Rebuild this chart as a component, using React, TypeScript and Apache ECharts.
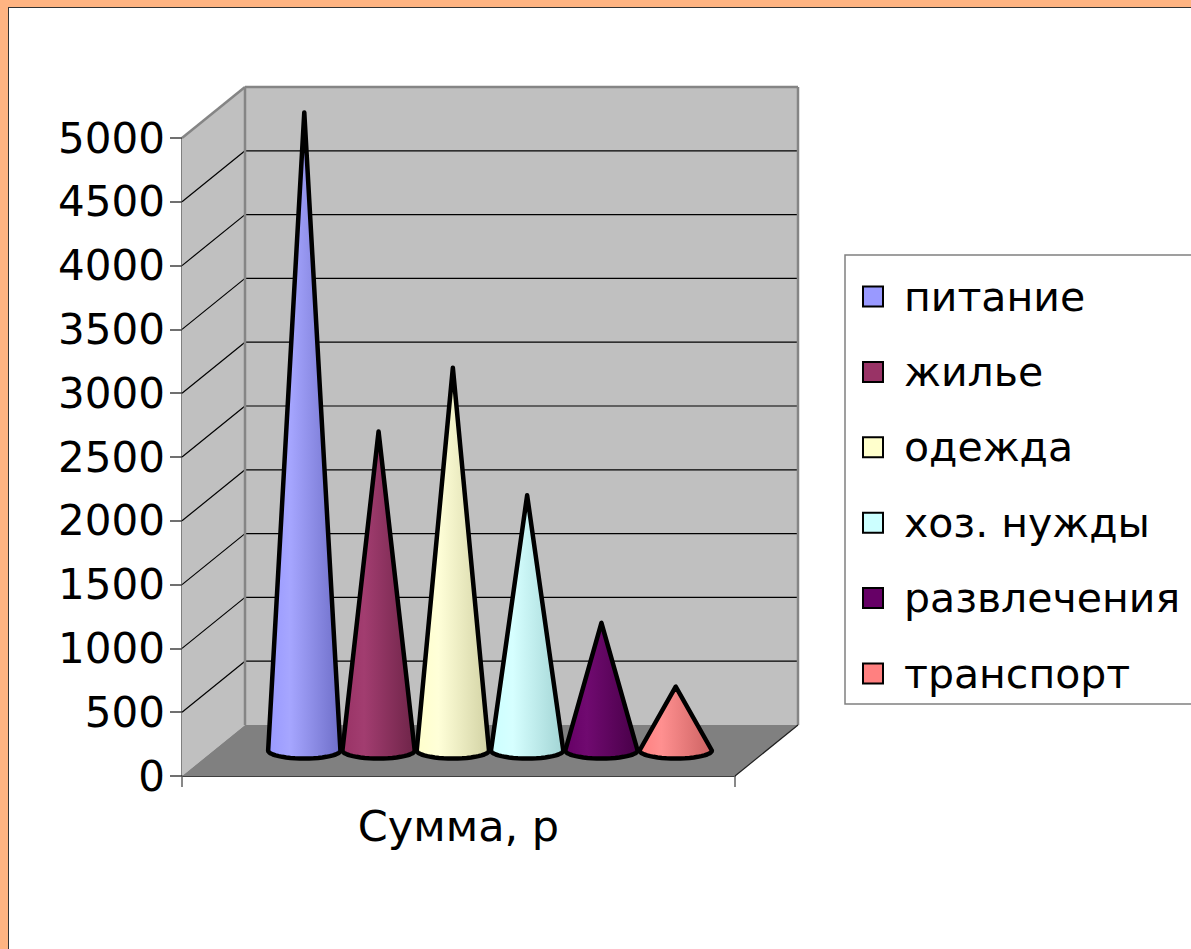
import React, { useEffect, useRef } from "react";
import * as echarts from "echarts";

const CATEGORY = ["Сумма, р"];
const SERIES_NAMES = ["питание", "жилье", "одежда", "хоз. нужды", "развлечения", "транспорт"];
const SERIES_VALUES = [5000, 2500, 3000, 2000, 1000, 500];
const SERIES_COLORS = ["#9999FF", "#993366", "#FFFFCC", "#CCFFFF", "#660066", "#FF8080"];
const SERIES_LIGHT = ["#A6A6FF", "#A23D70", "#FFFFD8", "#D6FFFF", "#700A70", "#FF9090"];
const SERIES_SHADES = ["#6E6EC8", "#6E2448", "#D2D2A4", "#A2D4D4", "#480048", "#CC6262"];
const Y_TICKS = [0, 500, 1000, 1500, 2000, 2500, 3000, 3500, 4000, 4500, 5000];

const FONT = "DejaVu Sans";
const DX = 63;
const DY = 51;
const GROUP_RATIO = 0.806;

export default function App() {
  const ref = useRef<HTMLDivElement>(null);

  useEffect(() => {
    if (!ref.current) return;
    const chart = echarts.init(ref.current, null, { renderer: "svg" });
    const yMin = Y_TICKS[0];
    const yMax = Y_TICKS[Y_TICKS.length - 1];

    const wallSeries: any = {
      type: "custom",
      name: "__walls",
      silent: true,
      z: 1,
      data: [[0, 0]],
      encode: { x: 0, y: 1 },
      renderItem: (params: any, api: any) => {
        const bw = api.size([1, 0])[0];
        const c0 = api.coord([0, yMin]);
        const xl = c0[0] - bw / 2;
        const xr = c0[0] + bw / 2;
        const y0 = c0[1];
        const yTop = api.coord([0, yMax])[1];
        const children: any[] = [];
        children.push({
          type: "polygon",
          shape: { points: [[xl, y0], [xl, yTop], [xl + DX, yTop - DY], [xl + DX, y0 - DY]] },
          style: { fill: "#C0C0C0" },
        });
        children.push({
          type: "rect",
          shape: { x: xl + DX, y: yTop - DY, width: bw, height: y0 - yTop },
          style: { fill: "#C0C0C0" },
        });
        children.push({
          type: "polygon",
          shape: { points: [[xl, y0], [xr, y0], [xr + DX, y0 - DY], [xl + DX, y0 - DY]] },
          style: { fill: "#808080" },
        });
        Y_TICKS.forEach((t) => {
          if (t === yMin || t === yMax) return;
          const y = api.coord([0, t])[1];
          children.push({
            type: "line",
            shape: { x1: xl, y1: y, x2: xl + DX, y2: y - DY },
            style: { stroke: "#000", lineWidth: 1.2 },
          });
          children.push({
            type: "line",
            shape: { x1: xl + DX, y1: y - DY, x2: xr + DX, y2: y - DY },
            style: { stroke: "#000", lineWidth: 1.2 },
          });
        });
        const gray = { stroke: "#858585", lineWidth: 2.5 };
        children.push({ type: "line", shape: { x1: xl, y1: yTop, x2: xl + DX, y2: yTop - DY }, style: gray });
        children.push({ type: "line", shape: { x1: xl + DX, y1: yTop - DY, x2: xr + DX, y2: yTop - DY }, style: gray });
        children.push({ type: "line", shape: { x1: xl + DX, y1: yTop - DY, x2: xl + DX, y2: y0 - DY }, style: gray });
        children.push({ type: "line", shape: { x1: xr + DX, y1: yTop - DY, x2: xr + DX, y2: y0 - DY }, style: gray });
        children.push({
          type: "line",
          shape: { x1: xr, y1: y0, x2: xr + DX, y2: y0 - DY },
          style: { stroke: "#202020", lineWidth: 1.2 },
        });
        return { type: "group", children };
      },
    };

    const coneSeries = SERIES_NAMES.map((name, i) => ({
      type: "custom",
      name,
      z: 2,
      itemStyle: { color: SERIES_COLORS[i] },
      data: [[0, SERIES_VALUES[i]]],
      encode: { x: 0, y: 1 },
      renderItem: (params: any, api: any) => {
        const bw = api.size([1, 0])[0];
        const c0 = api.coord([0, yMin]);
        const cv = api.coord([0, api.value(1)]);
        const n = SERIES_NAMES.length;
        const groupW = bw * GROUP_RATIO;
        const slot = groupW / n;
        const left = c0[0] - bw / 2 + DX / 2 + (bw - groupW) / 2;
        const cx = left + slot * (i + 0.5);
        const by = c0[1] - DY / 2;
        const ty = cv[1] - DY / 2;
        const r = slot / 2 - 1;
        const ry = 8;
        const pts: number[][] = [[cx, ty], [cx - r, by]];
        for (let k = 1; k < 24; k++) {
          const a = Math.PI - (Math.PI * k) / 24;
          pts.push([cx + r * Math.cos(a), by + ry * Math.sin(a)]);
        }
        pts.push([cx + r, by]);
        return {
          type: "polygon",
          shape: { points: pts },
          style: {
            fill: new echarts.graphic.LinearGradient(0, 0, 1, 0, [
              { offset: 0, color: SERIES_COLORS[i] },
              { offset: 0.3, color: SERIES_LIGHT[i] },
              { offset: 1, color: SERIES_SHADES[i] },
            ]),
            stroke: "#000",
            lineWidth: 4.5,
            lineJoin: "round",
          },
        };
      },
    }));

    chart.setOption({
      animation: false,
      backgroundColor: "transparent",
      grid: { left: 182, right: 456, top: 138, bottom: 173, containLabel: false },
      legend: {
        orient: "vertical",
        left: 845,
        top: 255,
        data: SERIES_NAMES,
        icon: "rect",
        itemWidth: 20,
        itemHeight: 20,
        itemGap: 34.4,
        padding: [21, 15, 10, 17],
        borderColor: "#808080",
        borderWidth: 1.5,
        backgroundColor: "#fff",
        itemStyle: { borderColor: "#000", borderWidth: 2 },
        textStyle: {
          fontFamily: FONT,
          fontSize: 41,
          color: "#000",
          lineHeight: 38.6,
          padding: [0, 0, 0, 16],
        },
        selectedMode: false,
      },
      xAxis: {
        type: "category",
        data: CATEGORY,
        boundaryGap: true,
        axisLine: { show: true, lineStyle: { color: "#000", width: 1.5 } },
        axisTick: { show: true, length: 11, alignWithLabel: false, lineStyle: { color: "#606060", width: 1.5 } },
        axisLabel: { fontFamily: FONT, fontSize: 43, color: "#000", margin: 28 },
        splitLine: { show: false },
      },
      yAxis: {
        type: "value",
        min: yMin,
        max: yMax,
        interval: 500,
        axisLine: { show: true, lineStyle: { color: "#808080", width: 2 } },
        axisTick: { show: true, length: 12, lineStyle: { color: "#404040", width: 1.5 } },
        axisLabel: {
          fontFamily: FONT,
          fontSize: 42,
          color: "#000",
          margin: 17,
          formatter: (v: number) => String(v),
        },
        splitLine: { show: false },
      },
      series: [wallSeries, ...coneSeries],
    });
    return () => chart.dispose();
  }, []);

  return (
    <div style={{ position: "fixed", left: 0, top: 0, width: 1191, height: 949, background: "#FFB482", overflow: "hidden" }}>
      <div
        style={{
          position: "absolute",
          left: 8,
          top: 7,
          width: 1191,
          height: 949,
          background: "#fff",
          borderTop: "1px solid #333",
          borderLeft: "1px solid #333",
        }}
      />
      <div ref={ref} style={{ position: "absolute", left: 0, top: 0, width: 1191, height: 949 }} />
    </div>
  );
}
